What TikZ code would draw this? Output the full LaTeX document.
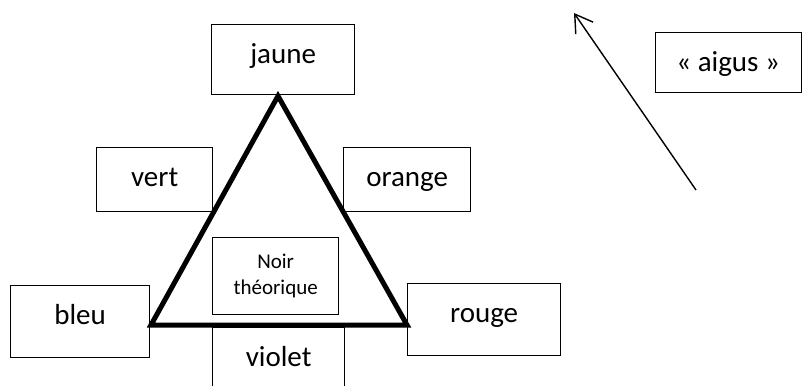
\documentclass[tikz,border=0pt]{standalone}
\usepackage{fontspec}
\setmainfont{Carlito}
\usetikzlibrary{arrows.meta}
\tikzset{
  colbox/.style n args={3}{draw=black, line width=1.3pt, fill=white, inner sep=0pt,
    minimum width=#1pt, text height=38.5pt, text depth={#2pt-38.5pt},
    font=\fontsize{29}{35}\selectfont, anchor=north west},
  tri/.style={line width=5pt, line join=miter},
  pointer/.style={line width=1.4pt, -{Straight Barb[length=17pt,width=21pt,line width=1.4pt]}}
}
\begin{document}
\begin{tikzpicture}[x=1pt,y=-1pt]
\useasboundingbox (0,0) rectangle (802,385);
\clip (0,0) rectangle (802,385);
\node[colbox={143}{70}{}] (jaune) at (211,24) {jaune};
\node[colbox={116}{64}{}] (vert) at (96,147) {vert};
\node[colbox={127}{64}{}] (orange) at (343,147) {orange};
\node[colbox={139}{72}{}] (bleu) at (10,285) {bleu};
\node[colbox={153}{72}{}] (rouge) at (407,283) {rouge};
\node[colbox={132}{75}{}] (violet) at (212,327) {violet};
\node[colbox={146}{60}{}] (aigus) at (654.5,32) {« aigus »};
\node[draw=black, line width=1.3pt, fill=white, inner sep=0pt, anchor=north west,
  minimum width=126pt, text height=57pt, text depth=20pt, align=center,
  font=\fontsize{21}{26}\selectfont] (noir) at (212,237) {Noir\\théorique};
\coordinate (tA) at (278,96);
\coordinate (tB) at (151,325);
\coordinate (tC) at (407,325);
\draw[tri] (tA) -- (tB) -- (tC) -- cycle;
\coordinate (arrS) at (696,190);
\coordinate (arrT) at (574,13);
\draw[pointer] (arrS) -- (arrT);
\end{tikzpicture}
\end{document}
